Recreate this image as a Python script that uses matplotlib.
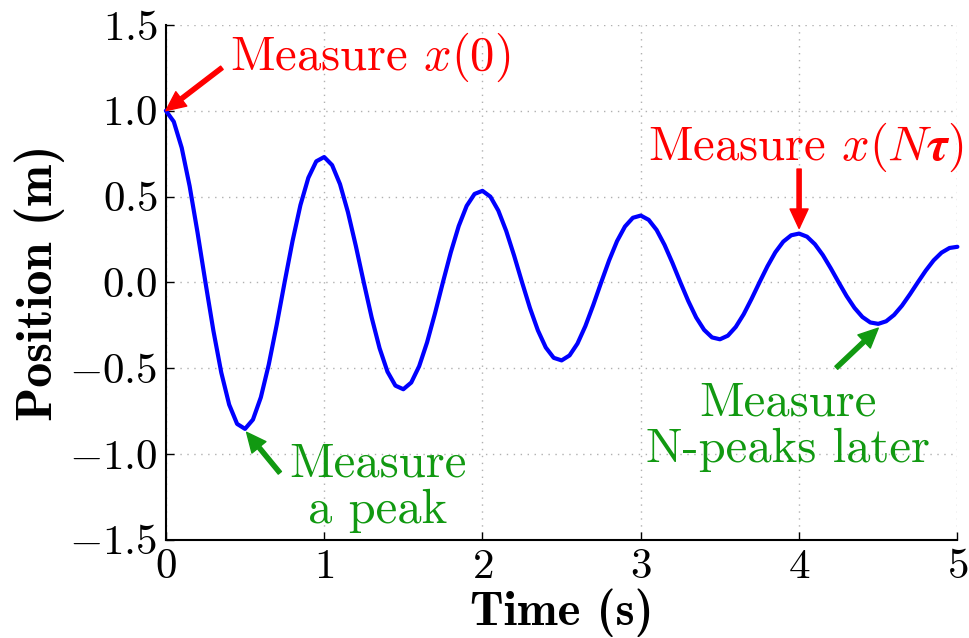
# Damped oscillation with measurement annotations

import numpy as np
import matplotlib
matplotlib.use('Agg')
import matplotlib.pyplot as plt

time_s = np.linspace(0, 5, 101)
position_m = [
    1.000, 0.936, 0.784, 0.561, 0.290, 0.000, -0.281, -0.526, -0.713, -0.825,
    -0.854, -0.800, -0.670, -0.479, -0.248, 0.000, 0.240, 0.450, 0.609, 0.705,
    0.730, 0.683, 0.572, 0.409, 0.212, 0.000, -0.205, -0.384, -0.521, -0.602,
    -0.623, -0.584, -0.489, -0.350, -0.181, 0.000, 0.175, 0.328, 0.445, 0.515,
    0.533, 0.499, 0.418, 0.299, 0.155, 0.000, -0.150, -0.280, -0.380, -0.440,
    -0.455, -0.426, -0.357, -0.255, -0.132, 0.000, 0.128, 0.240, 0.325, 0.376,
    0.389, 0.364, 0.305, 0.218, 0.113, 0.000, -0.109, -0.205, -0.277, -0.321,
    -0.332, -0.311, -0.260, -0.186, -0.096, 0.000, 0.093, 0.175, 0.237, 0.274,
    0.284, 0.266, 0.222, 0.159, 0.082, 0.000, -0.080, -0.149, -0.202, -0.234,
    -0.242, -0.227, -0.190, -0.136, -0.070, 0.000, 0.068, 0.128, 0.173, 0.200,
    0.207,
]
x_ticks = [0, 1, 2, 3, 4, 5]
y_ticks = [-1.5, -1.0, -0.5, 0.0, 0.5, 1.0, 1.5]

# annotation targets (time, position)
first_point = (0.0, 1.0)
nth_point = (4.0, 0.284)
first_trough = (0.5, -0.854)
nth_trough = (4.5, -0.242)

plt.rcParams['font.family'] = 'serif'
plt.rcParams['font.serif'] = ['cmr10']
plt.rcParams['mathtext.fontset'] = 'cm'
plt.rcParams['axes.formatter.use_mathtext'] = True

red = '#ff0000'
green = '#119911'

fig = plt.figure(figsize=(9.7, 6.38), dpi=100)
ax = fig.add_axes([0.171, 0.154, 0.816, 0.807])
ax.plot(time_s, position_m, color='#0000ff', lw=3, clip_on=False, zorder=3,
        solid_joinstyle='round', solid_capstyle='round')

ax.set_xlim(0, 5)
ax.set_ylim(-1.5, 1.5)
ax.set_xticks(x_ticks)
ax.set_yticks(y_ticks)
ax.grid(True, ls=(0, (1, 4)), color='#b0b0b0', lw=1)
for side in ['top', 'right']:
    ax.spines[side].set_visible(False)
for side in ['left', 'bottom']:
    ax.spines[side].set_linewidth(1.5)
ax.tick_params(direction='in', length=6, width=1, labelsize=31, pad=6)

ax.set_xlabel('Time (s)', fontfamily='cmb10', fontsize=35, labelpad=2)
ax.set_ylabel('Position (m)', fontfamily='cmb10', fontsize=36)
ax.yaxis.set_label_coords(-0.128, 0.5)

arrow_red = dict(facecolor=red, edgecolor=red, width=3, headwidth=13, headlength=14, shrink=0)
arrow_green = dict(facecolor=green, edgecolor=green, width=3, headwidth=13, headlength=14, shrink=0)

ax.annotate('', xy=first_point, xytext=(0.354, 1.25), arrowprops=arrow_red)
ax.text(0.405, 1.31, r'Measure $x(0)$', color=red, fontsize=35, va='center', ha='left')

ax.annotate('', xy=(nth_point[0], nth_point[1] + 0.03), xytext=(4.0, 0.66), arrowprops=arrow_red)
ax.text(4.04, 0.784, r'Measure $x(N\boldsymbol{\tau})$', color=red, fontsize=35, va='center', ha='center')

ax.annotate('', xy=(first_trough[0] + 0.01, first_trough[1] - 0.02), xytext=(0.72, -1.11), arrowprops=arrow_green)
ax.text(1.34, -1.196, 'Measure\na peak', color=green, fontsize=35, va='center', ha='center',
        linespacing=1.05)

ax.annotate('', xy=(nth_trough[0], nth_trough[1] - 0.025), xytext=(4.235, -0.498), arrowprops=arrow_green)
ax.text(3.93, -0.84, 'Measure\nN-peaks later', color=green, fontsize=35, va='center', ha='center',
        linespacing=1.05)

fig.savefig('out.png', dpi=100)
